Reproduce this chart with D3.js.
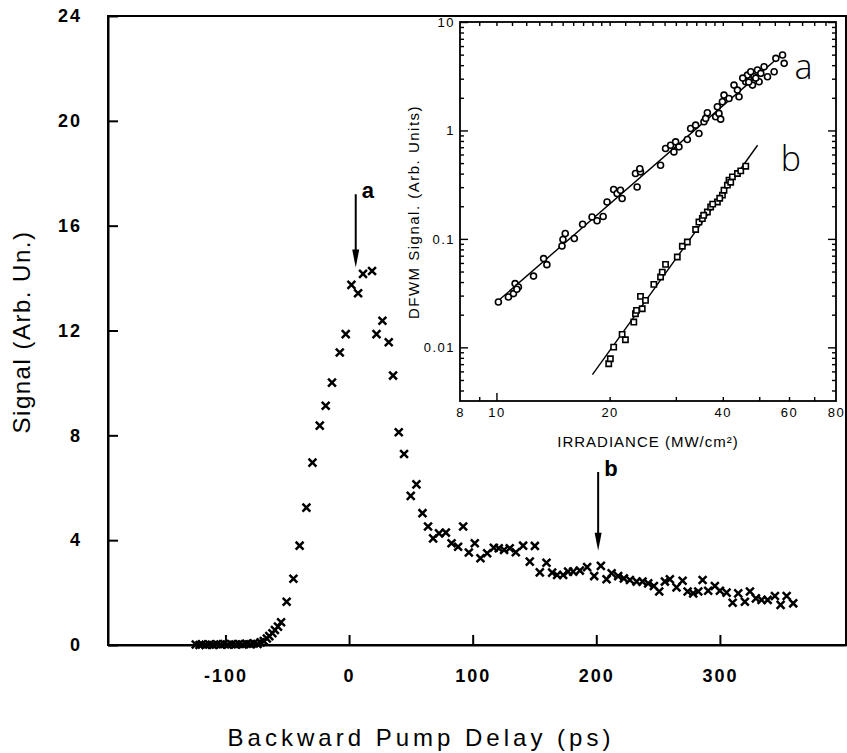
<!DOCTYPE html>
<html><head><meta charset="utf-8">
<script src="https://cdn.jsdelivr.net/npm/d3@7"></script>
<style>body{margin:0;background:#fff} svg{display:block}</style>
</head><body>
<svg id="c" width="847" height="753"></svg>
<script>
// ---------- main plot data ----------
const delayPs = [-124,-121,-119,-116,-113,-110,-107,-104,-101,-98,-95,-92,-89,-86,-83,-80,-77,-74,
 -71.5,-69,-66.5,-64.5,-62,-60,-57.5,-55,-50.5,-45,-40,-34.5,-29.6,-23.7,-18.9,-13.8,-7.5,-2.7,
 1.9,7.3,11.3,18.6,22.2,27,32.1,35.6,40.2,44.5,49.9,54.5,59.4,63.9,68,72.8,78.3,82.9,88.2,92.3,
 96.9,101.7,106.3,111.7,117.1,121.1,125.4,130,134.9,140.8,146.2,150.3,154.3,159.7,164.3,168.3,
 173.2,177.2,181.3,186.7,192.6,198.3,203.7,208.3,212.4,217.7,222.3,227.2,232.6,237.4,242,246.6,
 250.9,255.5,259.5,264.9,269.8,273.9,278.4,282.5,286,290.5,295.9,300,305.4,310.3,314.8,320.2,
 324.3,329.1,333.7,338.6,344.5,349.1,354,359.3];
const signalArb = [0.02,0.0,0.03,0.01,0.02,0.0,0.03,0.02,0.04,0.01,0.03,0.02,0.04,0.02,0.05,0.03,0.06,0.04,
 0.1,0.15,0.25,0.34,0.45,0.57,0.7,0.87,1.65,2.53,3.79,5.24,6.96,8.37,9.13,10.01,11.16,11.86,
 13.74,13.42,14.16,14.27,11.86,12.37,11.55,10.28,8.12,7.29,5.69,6.13,5.03,4.52,4.07,4.26,4.29,3.88,3.75,4.52,
 3.53,3.88,3.31,3.5,3.71,3.69,3.63,3.69,3.54,3.79,3.18,3.78,2.77,3.14,2.76,2.67,
 2.67,2.8,2.8,2.84,2.97,2.63,3.02,2.51,2.74,2.63,2.54,2.48,2.42,2.42,2.35,2.25,
 2.04,2.42,2.51,2.2,2.45,2.04,1.97,2.04,2.48,2.07,2.25,2.07,2.0,1.61,1.97,1.65,
 2.04,1.78,1.72,1.72,1.87,1.53,1.87,1.59];
const mainYTicks = [0,4,8,12,16,20,24];
const mainXTicks = [-100,0,100,200,300];
const arrowLabels = ['a','b'];
const arrowDelay = [5.4, 201.5];
const arrowTop = [17.2, 6.6];
const arrowTip = [14.4, 3.6];

// ---------- inset data ----------
const irrA = [10.12,10.76,11.10,11.21,11.44,11.33,12.55,13.35,13.62,14.94,15.03,15.24,16.11,16.95,17.96,18.52,19.22,19.69,
 20.50,20.94,21.59,21.37,23.67,23.43,24.16,24.06,27.32,28.17,29.05,29.65,29.96,30.58,32.19,32.85,33.87,34.56,35.64,36.01,
 36.39,38.29,39.07,39.48,38.69,39.90,40.29,41.54,42.84,44.18,43.75,46.03,46.51,47.47,47.97,48.44,49.46,50.48,49.95,51.50,
 52.59,54.77,55.35,57.67,58.24,45.19,46.89,48.94];
const sigA = [0.0262,0.0291,0.0313,0.0387,0.0360,0.0343,0.0454,0.0658,0.0579,0.0859,0.0986,0.112,0.1007,0.1364,0.159,0.147,0.1607,0.219,
 0.285,0.262,0.2355,0.281,0.301,0.401,0.415,0.444,0.478,0.682,0.731,0.634,0.785,0.706,0.826,1.043,1.119,0.938,1.201,1.291,
 1.454,1.336,1.436,1.271,1.652,1.837,2.118,1.973,2.62,2.042,2.356,2.81,3.24,3.477,2.62,3.126,3.604,3.36,2.81,3.866,
 3.126,3.477,4.623,4.957,4.157,3.04,2.79,3.04];
const irrB = [19.89,20.09,20.50,21.59,22.03,23.19,23.43,23.58,24.42,24.16,24.91,26.22,27.32,27.61,28.17,30.27,31.22,32.19,
 33.87,34.56,35.29,36.39,37.13,38.69,39.90,40.29,41.14,41.54,42.42,43.75,44.64,46.03,35.57,37.59,39.25,41.98];
const sigB = [0.00706,0.00785,0.01004,0.01316,0.01175,0.0171,0.0204,0.0219,0.0227,0.0295,0.0271,0.0381,0.0445,0.0494,0.0582,0.0681,0.0855,0.0936,
 0.122,0.143,0.154,0.177,0.197,0.219,0.253,0.281,0.313,0.348,0.373,0.401,0.424,0.468,0.165,0.209,0.237,0.333];
const fitAx = [10, 56], fitAy = [0.026, 4.65];
const fitBx = [18, 49.5], fitBy = [0.0056, 0.73];
const insetXLabels = [8,10,20,40,60,80];
const insetXMajor = [10];
const insetXMinor = [9,20,30,40,50,60,70];
const insetXTopMinor = [9,10,11,12,13,14,15,16,17,18,19,20,22,24,26,28,30,32,34,36,38,40,45,50,55,60,65,70,75];
const insetYMajor = [0.01,0.1,1,10];
const insetYLabels = ['0.01','0.1','1','10'];
const insetYMinor = [0.004,0.005,0.006,0.007,0.008,0.009,0.02,0.03,0.04,0.05,0.06,0.07,0.08,0.09,
 0.2,0.3,0.4,0.5,0.6,0.7,0.8,0.9,2,3,4,5,6,7,8,9];
const insetCurveLabels = ['a','b'];
const insetCurveLabelX = [62, 57];
const insetCurveLabelY = [3.0, 0.42];

// ---------- drawing ----------
const svg = d3.select('#c');
const sans = '"Liberation Sans", Arial, Helvetica, sans-serif';

const x = d3.scaleLinear().domain([-195, 402]).range([108, 846]);
const y = d3.scaleLinear().domain([0, 24]).range([645, 16]);

// frame
svg.append('rect').attr('x', x.range()[0]).attr('y', y.range()[1])
  .attr('width', x.range()[1]-x.range()[0]).attr('height', y.range()[0]-y.range()[1])
  .attr('fill','none').attr('stroke','#000').attr('stroke-width',2);

const yAx = svg.append('g').attr('transform',`translate(${x.range()[0]},0)`)
  .call(d3.axisLeft(y).tickValues(mainYTicks).tickSizeInner(-10).tickSizeOuter(0).tickPadding(26));
const xAx = svg.append('g').attr('transform',`translate(0,${y.range()[0]})`)
  .call(d3.axisBottom(x).tickValues(mainXTicks).tickSizeInner(-10).tickSizeOuter(0).tickPadding(24)
  .tickFormat(d => d < 0 ? '-' + Math.abs(d) : d));
[yAx, xAx].forEach(g => {
  g.select('.domain').attr('stroke-width', 2);
  g.selectAll('.tick line').attr('stroke-width', 2);
  g.selectAll('text').attr('font-family', sans).attr('font-weight','bold')
    .attr('font-size', 18).attr('letter-spacing', '2px').attr('fill','#000');
});

// axis titles
svg.append('text').attr('transform','translate(30,332) rotate(-90)')
  .attr('text-anchor','middle').attr('font-family',sans).attr('font-size',24)
  .attr('letter-spacing','1.5px').text('Signal (Arb. Un.)');
svg.append('text').attr('x', 421).attr('y', 746)
  .attr('text-anchor','middle').attr('font-family',sans).attr('font-size',24)
  .attr('letter-spacing','4px').text('Backward Pump Delay (ps)');

// markers x
const xSym = d3.symbol().type(d3.symbolX || {draw(c,s){const r=Math.sqrt(s)*0.35;c.moveTo(-r,-r);c.lineTo(r,r);c.moveTo(-r,r);c.lineTo(r,-r);}}).size(42);
svg.append('g').selectAll('path').data(delayPs.map((d,i)=>[d, signalArb[i]])).join('path')
  .attr('transform', d => `translate(${x(d[0])},${y(d[1])})`)
  .attr('d', xSym).attr('fill','none').attr('stroke','#000').attr('stroke-width',2.5);

// arrows
arrowLabels.forEach((lab,i) => {
  const ax = x(arrowDelay[i]), y0 = y(arrowTop[i]), y1 = y(arrowTip[i]);
  svg.append('line').attr('x1',ax).attr('x2',ax).attr('y1',y0).attr('y2',y1-14)
    .attr('stroke','#000').attr('stroke-width',2);
  svg.append('path').attr('d',`M${ax-3.5},${y1-18}L${ax+3.5},${y1-18}L${ax},${y1}Z`).attr('fill','#000');
  svg.append('text').attr('x', ax+6).attr('y', y0+4).attr('font-family',sans)
    .attr('font-weight','bold').attr('font-size',22).text(lab);
});

// ---------- inset ----------
const ix = d3.scaleLog().domain([8, 80]).range([460, 836]);
const iy = d3.scaleLog().domain([0.0032, 10]).range([401, 22]);
const ig = svg.append('g');
ig.append('rect').attr('x',ix.range()[0]).attr('y',iy.range()[1])
  .attr('width',ix.range()[1]-ix.range()[0]).attr('height',iy.range()[0]-iy.range()[1])
  .attr('fill','#fff').attr('stroke','#000').attr('stroke-width',1.8);

function tickAxis(axis, vals, size, tr){
  const g = ig.append('g').attr('transform', tr)
    .call(axis.tickValues(vals).tickSizeInner(-size).tickSizeOuter(0).tickFormat(''));
  g.select('.domain').remove();
  g.selectAll('.tick line').attr('stroke-width',1.4);
  return g;
}
const bx = `translate(0,${iy.range()[0]})`, tx = `translate(0,${iy.range()[1]})`;
const lx = `translate(${ix.range()[0]},0)`, rx = `translate(${ix.range()[1]},0)`;
tickAxis(d3.axisBottom(ix), insetXMajor, 8, bx);
tickAxis(d3.axisBottom(ix), insetXMinor, 4, bx);
tickAxis(d3.axisTop(ix), insetXTopMinor, 4, tx);
tickAxis(d3.axisLeft(iy), insetYMajor, 8, lx);
tickAxis(d3.axisLeft(iy), insetYMinor, 4, lx);
tickAxis(d3.axisRight(iy), insetYMajor, 8, rx);
tickAxis(d3.axisRight(iy), insetYMinor, 4, rx);

const xl = ig.append('g').attr('transform', bx)
  .call(d3.axisBottom(ix).tickValues(insetXLabels).tickSize(0).tickPadding(7).tickFormat(d3.format('d')));
const yl = ig.append('g').attr('transform', lx)
  .call(d3.axisLeft(iy).tickValues(insetYMajor).tickSize(0).tickPadding(5).tickFormat((d,i)=>insetYLabels[i]));
[xl, yl].forEach(g => {
  g.select('.domain').remove();
  g.selectAll('text').attr('font-family',sans).attr('font-size',13).attr('letter-spacing','1.5px').attr('fill','#000');
});

ig.append('text').attr('x', 648).attr('y', 447).attr('text-anchor','middle')
  .attr('font-family',sans).attr('font-size',15).attr('letter-spacing','1px')
  .text('IRRADIANCE  (MW/cm\u00B2)');
ig.append('text').attr('transform','translate(419,212) rotate(-90)').attr('text-anchor','middle')
  .attr('font-family',sans).attr('font-size',15).attr('letter-spacing','1.5px')
  .text('DFWM Signal.  (Arb.  Units)');

// fit lines
const line = d3.line().x(d=>ix(d[0])).y(d=>iy(d[1]));
ig.append('path').attr('d', line(fitAx.map((v,i)=>[v, fitAy[i]]))).attr('stroke','#000').attr('stroke-width',1.4).attr('fill','none');
ig.append('path').attr('d', line(fitBx.map((v,i)=>[v, fitBy[i]]))).attr('stroke','#000').attr('stroke-width',1.4).attr('fill','none');

ig.append('g').selectAll('circle').data(irrA.map((v,i)=>[v, sigA[i]])).join('circle')
  .attr('cx', d=>ix(d[0])).attr('cy', d=>iy(d[1])).attr('r', 3)
  .attr('fill','#fff').attr('stroke','#000').attr('stroke-width',1.6);
const sq = d3.symbol().type(d3.symbolSquare).size(28);
ig.append('g').selectAll('path').data(irrB.map((v,i)=>[v, sigB[i]])).join('path')
  .attr('transform', d=>`translate(${ix(d[0])},${iy(d[1])})`).attr('d', sq)
  .attr('fill','#fff').attr('stroke','#000').attr('stroke-width',1.6);

insetCurveLabels.forEach((lab,i) => {
  ig.append('text').attr('x', ix(insetCurveLabelX[i])).attr('y', iy(insetCurveLabelY[i]))
    .attr('font-family','"Open Sans", "DejaVu Sans", sans-serif').attr('font-weight',300)
    .attr('font-size',34).text(lab);
});
</script>
</body></html>
